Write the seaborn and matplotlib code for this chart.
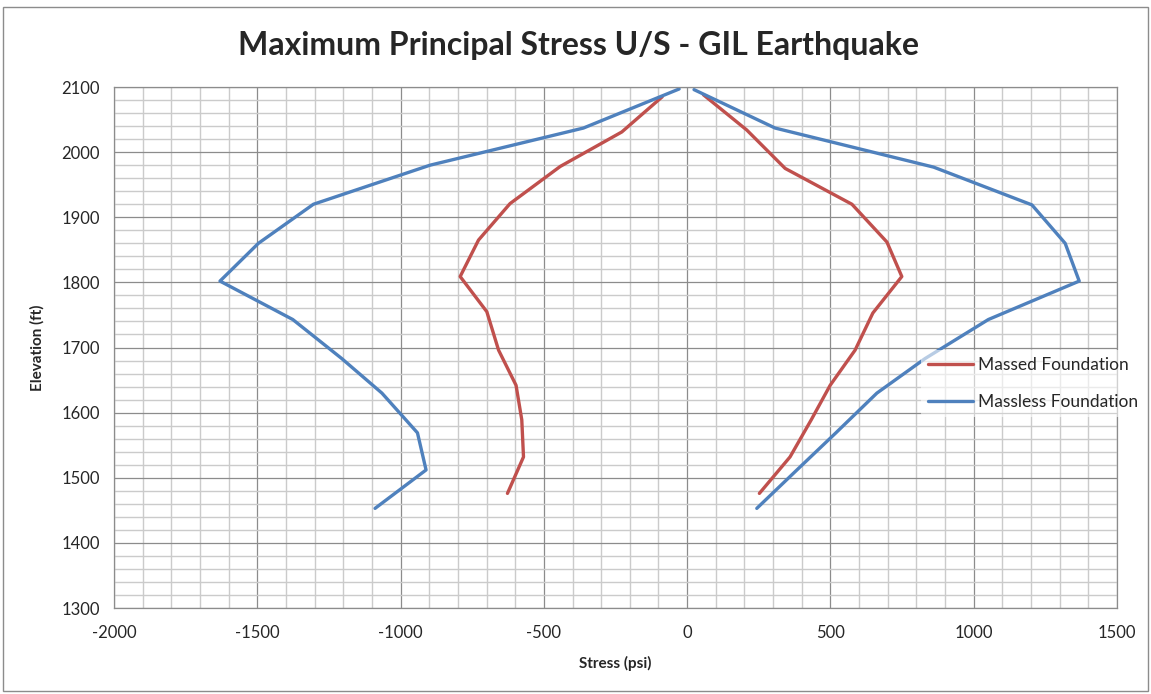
import numpy as np
import pandas as pd
import seaborn as sns
import matplotlib.pyplot as plt
from matplotlib.ticker import MultipleLocator
from matplotlib.patches import Rectangle

# --- data (stress in psi, elevation in ft) ---
massed_left_x = [-87, -228, -443, -618, -728, -792, -699, -658, -597, -577, -571, -627]
massed_left_y = [2085, 2031, 1978, 1921, 1865, 1809, 1755, 1696, 1642, 1589, 1532, 1476]
massed_right_x = [57, 208, 342, 575, 697, 749, 648, 586, 499, 433, 359, 252]
massed_right_y = [2088, 2034, 1975, 1920, 1862, 1809, 1753, 1696, 1642, 1589, 1532, 1476]

massless_left_x = [-28, -362, -897, -1304, -1496, -1630, -1376, -1205, -1065, -941, -911, -1089]
massless_left_y = [2097, 2037, 1980, 1920, 1860, 1802, 1743, 1683, 1630, 1569, 1512, 1453]
massless_right_x = [24, 307, 860, 1203, 1319, 1368, 1051, 830, 662, 519, 383, 243]
massless_right_y = [2096, 2037, 1977, 1919, 1860, 1802, 1743, 1683, 1630, 1569, 1512, 1453]

labels = ["Massed Foundation", "Massless Foundation"]
colors = ["#C0504D", "#4F81BD"]

frames = []
for lab, branches in [
    (labels[0], [("L", massed_left_x, massed_left_y), ("R", massed_right_x, massed_right_y)]),
    (labels[1], [("L", massless_left_x, massless_left_y), ("R", massless_right_x, massless_right_y)]),
]:
    for side, xs, ys in branches:
        frames.append(pd.DataFrame({"stress": xs, "elev": ys, "series": lab, "branch": lab + side}))
df = pd.concat(frames, ignore_index=True)

# --- plot ---
sns.set_style("white")
plt.rcParams["font.family"] = ["Lato", "DejaVu Sans"]
plt.rcParams["axes.unicode_minus"] = False

fig = plt.figure(figsize=(11.51, 6.94), dpi=100)
ax = fig.add_axes([0.099, 0.1239, 0.8715, 0.7507])

sns.lineplot(data=df, x="stress", y="elev", hue="series", units="branch",
             estimator=None, sort=False, palette=colors, linewidth=2.4, ax=ax)

ax.set_xlim(-2000, 1500)
ax.set_ylim(1300, 2100)
ax.xaxis.set_major_locator(MultipleLocator(500))
ax.xaxis.set_minor_locator(MultipleLocator(100))
ax.yaxis.set_major_locator(MultipleLocator(100))
ax.yaxis.set_minor_locator(MultipleLocator(20))
ax.grid(which="major", color="#8c8c8c", linewidth=0.9)
ax.grid(which="minor", color="#cbcbcb", linewidth=1.0)
ax.set_axisbelow(True)
for s in ax.spines.values():
    s.set_color("#8c8c8c")
    s.set_linewidth(0.9)
ax.tick_params(axis="x", which="major", direction="out", length=5, color="#8c8c8c",
               labelsize=12, pad=7)
ax.tick_params(axis="y", which="major", direction="out", length=5, color="#8c8c8c",
               labelsize=12, pad=5)
ax.tick_params(which="minor", length=0)

ax.set_xlabel("Stress (psi)", fontsize=11, fontweight="bold", labelpad=11)
ax.set_ylabel("Elevation (ft)", fontsize=11, fontweight="bold", labelpad=12)
fig.suptitle("Maximum Principal Stress U/S - GIL Earthquake",
             fontsize=23, fontweight="bold", x=0.503, y=0.955)

leg = ax.legend(loc="center left", bbox_to_anchor=(0.7925, 0.4475),
                bbox_transform=fig.transFigure, frameon=True, fontsize=12.5,
                handlelength=2.6, handletextpad=0.3, labelspacing=1.2)
leg.get_frame().set_facecolor("white")
leg.get_frame().set_alpha(0.6)
leg.get_frame().set_edgecolor("none")
for h in leg.get_lines():
    h.set_linewidth(2.4)

# chart-area border
fig.patches.append(Rectangle((0.003, 0.004), 0.994, 0.986, transform=fig.transFigure,
                             fill=False, edgecolor="#8c8c8c", linewidth=1))

fig.savefig("out.png", dpi=100)
